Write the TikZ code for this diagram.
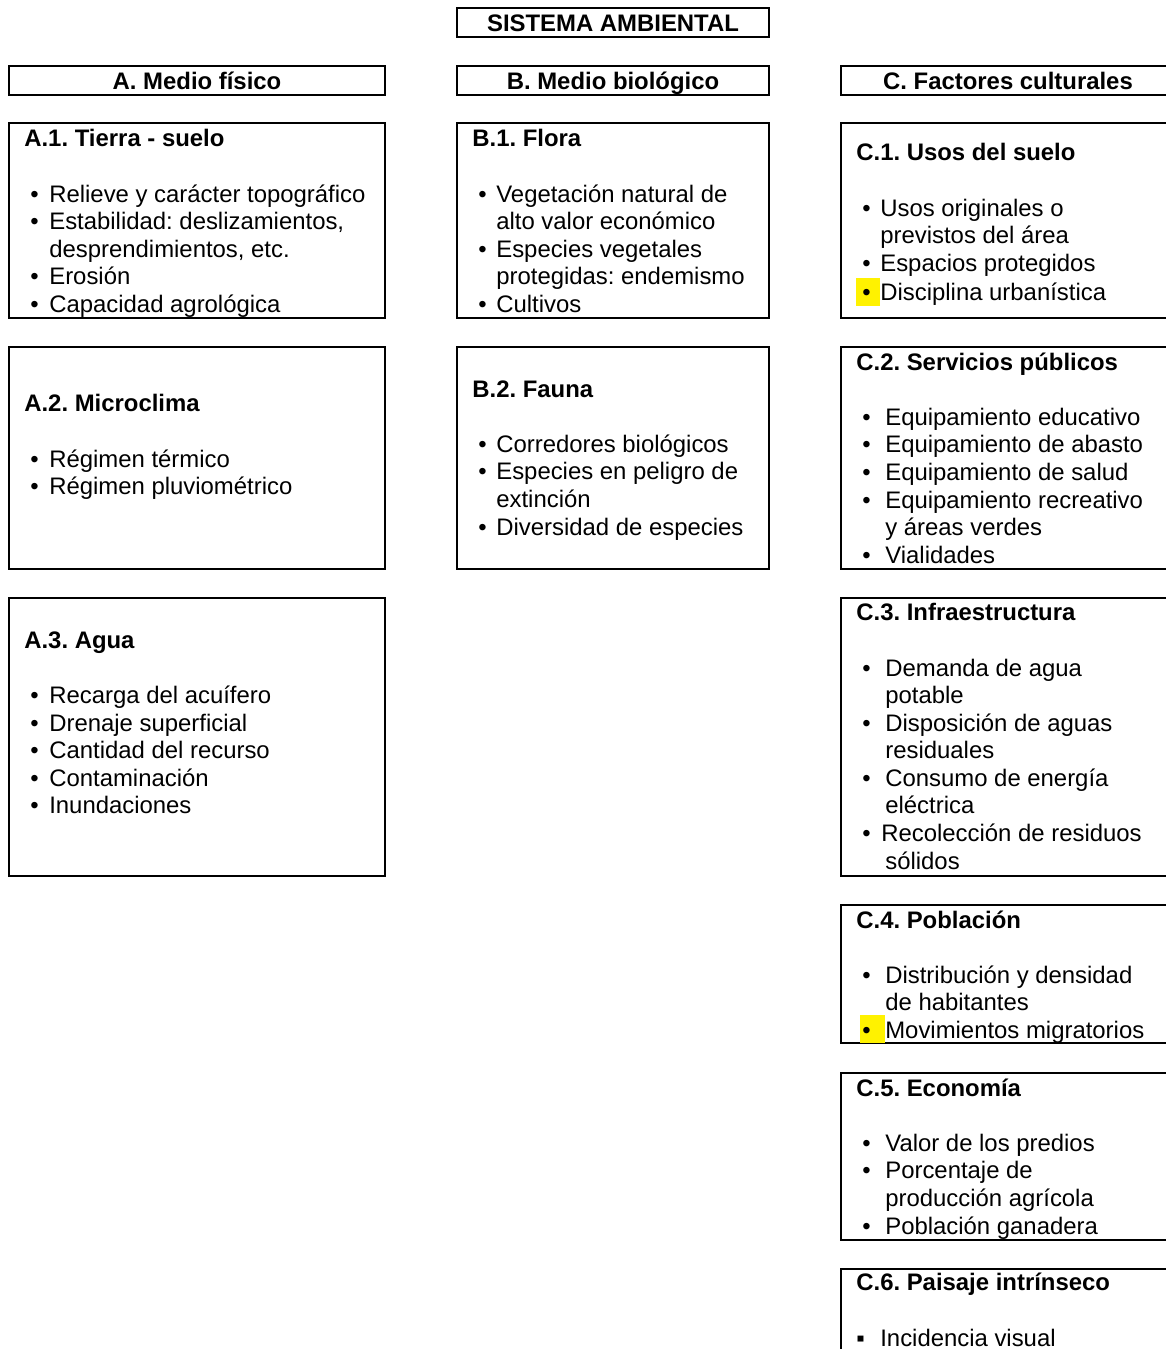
\documentclass[tikz,border=0pt]{standalone}
\usepackage{fontspec}
\setmainfont{Liberation Sans}
\usepackage{xcolor}
\frenchspacing

\newcommand{\letra}{\fontsize{13.6}{15.7}\selectfont}
\newcommand{\vin}[2][0.5cm]{\makebox[#1][l]{\hspace{0.12cm}•}#2}
\newcommand{\sig}[2][0.5cm]{\hspace*{#1}#2}
\newcommand{\marca}[3]{\hspace*{#1}\makebox[#2][l]{\rlap{\color{yellow}\rule[-0.1cm]{#2}{0.56cm}}\hspace{\dimexpr0.12cm-#1\relax}•}#3}

\begin{document}
\begin{tikzpicture}[x=0.02cm, y=-0.02cm,
  every node/.style={font=\letra},
  caja/.style={draw, line width=1.1pt},
  cabeza/.style={caja, font=\letra\bfseries, inner sep=0pt, minimum height=0.58cm,
    text height=11pt, text depth=1.26pt},
  lista/.style={anchor=north west, inner sep=0pt, align=left}]

\useasboundingbox (0,0) rectangle (1166,1349);
\clip (0,0) rectangle (1166,1349);

\node[cabeza, minimum width=6.24cm] (sist) at (613,22.5) {SISTEMA AMBIENTAL};
\node[cabeza, minimum width=7.52cm] (ha) at (197,80.5) {A. Medio físico};
\node[cabeza, minimum width=6.24cm] (hb) at (613,80.5) {B. Medio biológico};
\node[cabeza, minimum width=6.68cm] (hc) at (1008,80.5) {C. Factores culturales};

\draw[caja] (9,123) rectangle (385,318);
\draw[caja] (457,123) rectangle (769,318);
\draw[caja] (841,123) rectangle (1175,318);
\draw[caja] (9,347) rectangle (385,569);
\draw[caja] (457,347) rectangle (769,569);
\draw[caja] (841,347) rectangle (1175,569);
\draw[caja] (9,598) rectangle (385,876);
\draw[caja] (841,598) rectangle (1175,876);
\draw[caja] (841,905) rectangle (1175,1043);
\draw[caja] (841,1073) rectangle (1175,1240);
\draw[caja] (841,1269) rectangle (1175,1400);

\node[lista] (a1) at (24,129.2) {\textbf{A.1. Tierra - suelo}\\[\baselineskip]
  \vin{Relieve y carácter topográfico}\\
  \vin{Estabilidad: deslizamientos,}\\
  \sig{desprendimientos, etc.}\\
  \vin{Erosión}\\
  \vin{Capacidad agrológica}};
\node[lista] (b1) at (472,129.2) {\textbf{B.1. Flora}\\[\baselineskip]
  \vin[0.48cm]{Vegetación natural de}\\
  \sig[0.48cm]{alto valor económico}\\
  \vin[0.48cm]{Especies vegetales}\\
  \sig[0.48cm]{protegidas: endemismo}\\
  \vin[0.48cm]{Cultivos}};
\node[lista] (c1) at (856,143.2) {\textbf{C.1. Usos del suelo}\\[\baselineskip]
  \vin[0.48cm]{Usos originales o}\\
  \sig[0.48cm]{previstos del área}\\
  \vin[0.48cm]{Espacios protegidos}\\
  \marca{0cm}{0.48cm}{Disciplina urbanística}};

\node[lista] (a2) at (24,394.2) {\textbf{A.2. Microclima}\\[\baselineskip]
  \vin{Régimen térmico}\\
  \vin{Régimen pluviométrico}};
\node[lista] (b2) at (472,380.2) {\textbf{B.2. Fauna}\\[\baselineskip]
  \vin[0.48cm]{Corredores biológicos}\\
  \vin[0.48cm]{Especies en peligro de}\\
  \sig[0.48cm]{extinción}\\
  \vin[0.48cm]{Diversidad de especies}};
\node[lista] (c2) at (856,352.2) {\textbf{C.2. Servicios públicos}\\[\baselineskip]
  \vin[0.58cm]{Equipamiento educativo}\\
  \vin[0.58cm]{Equipamiento de abasto}\\
  \vin[0.58cm]{Equipamiento de salud}\\
  \vin[0.58cm]{Equipamiento recreativo}\\
  \sig[0.58cm]{y áreas verdes}\\
  \vin[0.58cm]{Vialidades}};

\node[lista] (a3) at (24,631.2) {\textbf{A.3. Agua}\\[\baselineskip]
  \vin{Recarga del acuífero}\\
  \vin{Drenaje superficial}\\
  \vin{Cantidad del recurso}\\
  \vin{Contaminación}\\
  \vin{Inundaciones}};
\node[lista] (c3) at (856,603.2) {\textbf{C.3. Infraestructura}\\[\baselineskip]
  \vin[0.58cm]{Demanda de agua}\\
  \sig[0.58cm]{potable}\\
  \vin[0.58cm]{Disposición de aguas}\\
  \sig[0.58cm]{residuales}\\
  \vin[0.58cm]{Consumo de energía}\\
  \sig[0.58cm]{eléctrica}\\
  \vin[0.5cm]{Recolección de residuos}\\
  \sig[0.58cm]{sólidos}};

\node[lista] (c4) at (856,910.2) {\textbf{C.4. Población}\\[\baselineskip]
  \vin[0.58cm]{Distribución y densidad}\\
  \sig[0.58cm]{de habitantes}\\
  \marca{0.08cm}{0.5cm}{Movimientos migratorios}};
\node[lista] (c5) at (856,1078.2) {\textbf{C.5. Economía}\\[\baselineskip]
  \vin[0.58cm]{Valor de los predios}\\
  \vin[0.58cm]{Porcentaje de}\\
  \sig[0.58cm]{producción agrícola}\\
  \vin[0.58cm]{Población ganadera}};
\node[lista] (c6) at (856,1273) {\textbf{C.6. Paisaje intrínseco}\\[\baselineskip]
  \makebox[0.48cm][l]{▪}Incidencia visual};

\end{tikzpicture}
\end{document}
